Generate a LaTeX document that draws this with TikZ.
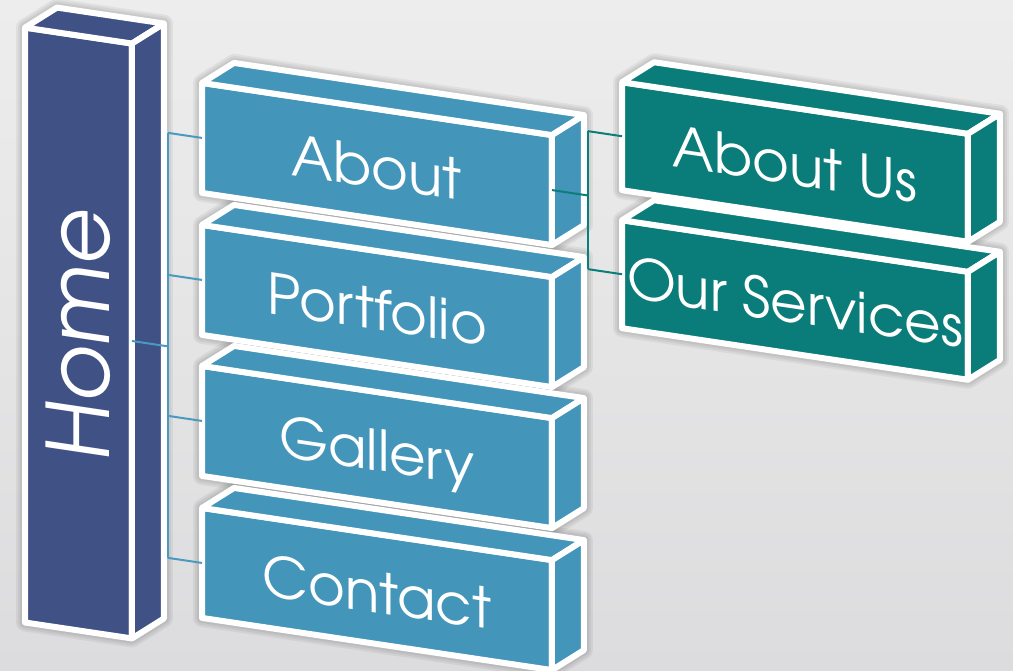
\documentclass[tikz,border=0pt]{standalone}
\usepackage{fontspec}
\setmainfont{TeX Gyre Adventor}
\usetikzlibrary{calc}
\definecolor{homec}{HTML}{3F5185}
\definecolor{bluec}{HTML}{4395B9}
\definecolor{tealc}{HTML}{0A7C79}
\definecolor{bconnc}{HTML}{4A9AC0}
\definecolor{tconnc}{HTML}{0B7D7A}
\definecolor{bgtop}{HTML}{EDEDED}
\definecolor{bgbot}{HTML}{DCDCDE}
\pgfdeclarelayer{back}
\pgfdeclarelayer{shadow}
\pgfsetlayers{back,shadow,main}
\tikzset{
  face/.style={line width=0.12cm, draw=white, line join=round},
  halo/.style={line join=round, draw=black, draw opacity=0.05},
  front/.style={face, rectangle, inner sep=0pt, outer sep=0pt, yslant=-0.149, text=white},
  homebox/.style={front, fill=homec, minimum width=2.14cm, minimum height=11.9cm,
    font=\fontsize{49}{49}\selectfont},
  bluebox/.style={front, fill=bluec, minimum width=7cm, minimum height=2.2cm,
    font=\fontsize{32}{32}\selectfont, text height=27pt, text depth=0pt},
  tealbox/.style={front, fill=tealc, minimum width=6.92cm, minimum height=2.16cm,
    font=\fontsize{32}{32}\selectfont, text height=26pt, text depth=0pt},
  bconn/.style={line width=0.04cm, draw=bconnc},
  tconn/.style={line width=0.04cm, draw=tconnc},
}
\newcommand\boxsides[2]{%
  \begin{pgfonlayer}{shadow}
    \foreach \w in {0.36,0.28,0.2}
      \draw[halo, line width=\w cm] (#1.south west) -- (#1.north west) -- ++(32,-20)
        -- ($(#1.north east)+(32,-20)$) -- ($(#1.south east)+(32,-20)$) -- (#1.south east) -- cycle;
  \end{pgfonlayer}
  \draw[face, fill=#2] (#1.north west) -- ++(32,-20) -- ($(#1.north east)+(32,-20)$) -- (#1.north east) -- cycle;
  \draw[face, fill=#2] (#1.north east) -- ++(32,-20) -- ($(#1.south east)+(32,-20)$) -- (#1.south east) -- cycle;
}
\begin{document}
\begin{tikzpicture}[x=0.02cm, y=-0.02cm]
  \useasboundingbox (0,0) rectangle (1013,670);
  \begin{pgfonlayer}{back}
    \shade[top color=bgtop, bottom color=bgbot] (0,0) rectangle (1013,670);
  \end{pgfonlayer}

  % Home
  \node[homebox] (home) at (78.5,333) {\rotatebox{90}{Home}};
  \boxsides{home}{homec}

  % level 2
  \node[bluebox] (about) at (377,164) {About};
  \boxsides{about}{bluec}
  \node[bluebox] (portfolio) at (377,306) {Portfolio};
  \boxsides{portfolio}{bluec}
  \node[bluebox] (gallery) at (377,447) {Gallery};
  \boxsides{gallery}{bluec}
  \node[bluebox] (contact) at (377,589) {Contact};
  \boxsides{contact}{bluec}

  % level 3
  \node[tealbox] (aboutus) at (795,162) {About Us};
  \boxsides{aboutus}{tealc}
  \node[tealbox] (services) at (795,300) {Our Services};
  \boxsides{services}{tealc}

  % connectors Home -> level 2
  \draw[bconn] (home.east) -- ++(36,5.4);
  \draw[bconn] ($(about.west)+(-34,-5.07)$) -- ($(contact.west)+(-34,-5.07)$);
  \foreach \n in {about,portfolio,gallery,contact}
    \draw[bconn] (\n.west) -- ++(-34,-5.07);

  % connectors About -> level 3
  \draw[tconn] (about.east) -- ++(36,5.4);
  \draw[tconn] ($(aboutus.west)+(-34,-5.07)$) -- ($(services.west)+(-34,-5.07)$);
  \foreach \n in {aboutus,services}
    \draw[tconn] (\n.west) -- ++(-34,-5.07);
\end{tikzpicture}
\end{document}
